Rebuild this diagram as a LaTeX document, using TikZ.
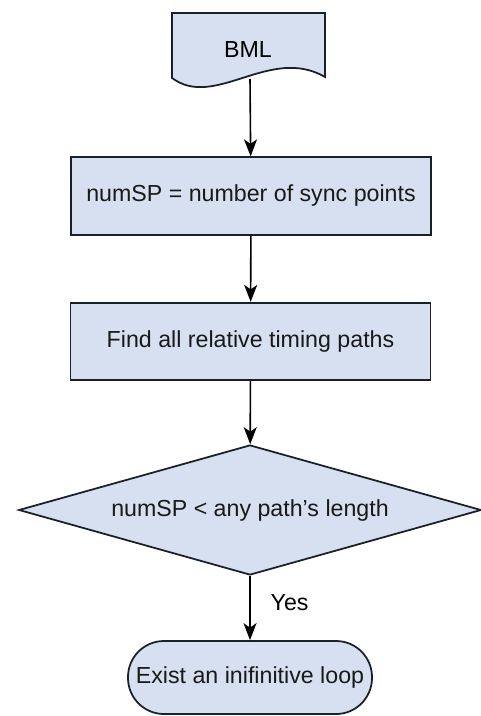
\documentclass[tikz,border=0pt]{standalone}
\usepackage{fontspec}
\setmainfont{Liberation Sans}
\usetikzlibrary{arrows.meta,shapes.geometric}
\definecolor{boxfill}{RGB}{214,224,240}
\definecolor{boxline}{RGB}{25,32,38}

\begin{document}
\begin{tikzpicture}[
    >={Stealth[length=3.4mm,width=2.6mm,inset=0.9mm]},
    every node/.style={font=\fontsize{13.2}{15}\selectfont},
    fl/.style={->,line width=0.9pt,black},
    shapeline/.style={draw,boxline,line width=1pt,fill=boxfill,text=black!90},
    stepbox/.style={shapeline,minimum width=7.2cm,minimum height=1.55cm},
    decide/.style={shapeline,diamond,aspect=3.56,
      minimum width=9.25cm,minimum height=2.6cm,inner sep=0pt},
    stopbox/.style={shapeline,rounded corners=0.72cm,
      minimum width=4.88cm,minimum height=1.46cm},
  ]
  \useasboundingbox (0,0) rectangle (9.62,-14.32);

  % -- the input document --
  \draw[shapeline]
    (3.44,-0.26) -- (6.50,-0.26) -- (6.50,-1.54)
    .. controls (5.40,-0.90) and (4.30,-2.20) .. (3.44,-1.56) -- cycle;
  \node (bml) at (4.96,-1.0) {BML};
  \coordinate (bmlout) at (5.0,-1.58);

  % -- the steps --
  \node[stepbox] (count) at (5.02,-3.92) {numSP = number of sync points};
  \node[stepbox] (paths) at (5.01,-6.83) {Find all relative timing paths};
  \node[decide]  (check) at (5.0,-10.2)  {numSP < any path's length};
  \node[stopbox] (loop)  at (5.0,-13.55) {Exist an inifinitive loop};

  % -- the flow --
  \draw[fl] (bmlout) -- (count);
  \draw[fl] (count) -- (paths);
  \draw[fl] (paths) -- (check);
  \draw[fl] (check) -- node[pos=0.42,right=0.28cm] (yes) {Yes} (loop);
\end{tikzpicture}
\end{document}
